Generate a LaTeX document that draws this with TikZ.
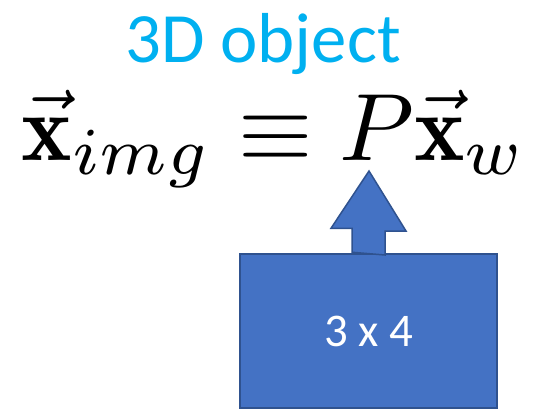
\documentclass[tikz,border=0pt]{standalone}
\usepackage{fontspec}
\newfontfamily\slidefont{Carlito}
\usetikzlibrary{positioning}
\definecolor{objcyan}{RGB}{0,176,240}
\definecolor{matfill}{RGB}{68,114,196}
\definecolor{matline}{RGB}{47,82,143}

\begin{document}
\begin{tikzpicture}[x=1bp,y=-1bp,every node/.style={inner sep=0pt},
  matbox/.style={draw=matline,fill=matfill,line width=1.5bp,text=white,font=\slidefont\fontsize{47}{50}\selectfont}]
\useasboundingbox (0,0) rectangle (538,411);
\node[anchor=base,text=objcyan,font=\slidefont\fontsize{71}{80}\selectfont] (obj) at (263,62) {3D object};
\node[anchor=base west,scale=9.6] (eq) at (20,160) {$\vec{\mathbf{x}}_{img} \equiv P\vec{\mathbf{x}}_w$};
\coordinate (tip) at (369,171);
\node[matbox,minimum width=257bp,minimum height=154bp] (mat) at (368.5,331) {};
% block arrow from the matrix up to P
\draw[draw=matline,fill=matfill,line width=1.5bp] ([xshift=-16.5bp,yshift=1bp]mat.north) -- ++(0,-24) -- ++(-21,0) -- (tip)
  -- ++(37,60) -- ++(-21,0) -- ++(0,24) -- cycle;
\node[matbox,draw=none] (dims) at (mat) {3 x 4};
\end{tikzpicture}
\end{document}
